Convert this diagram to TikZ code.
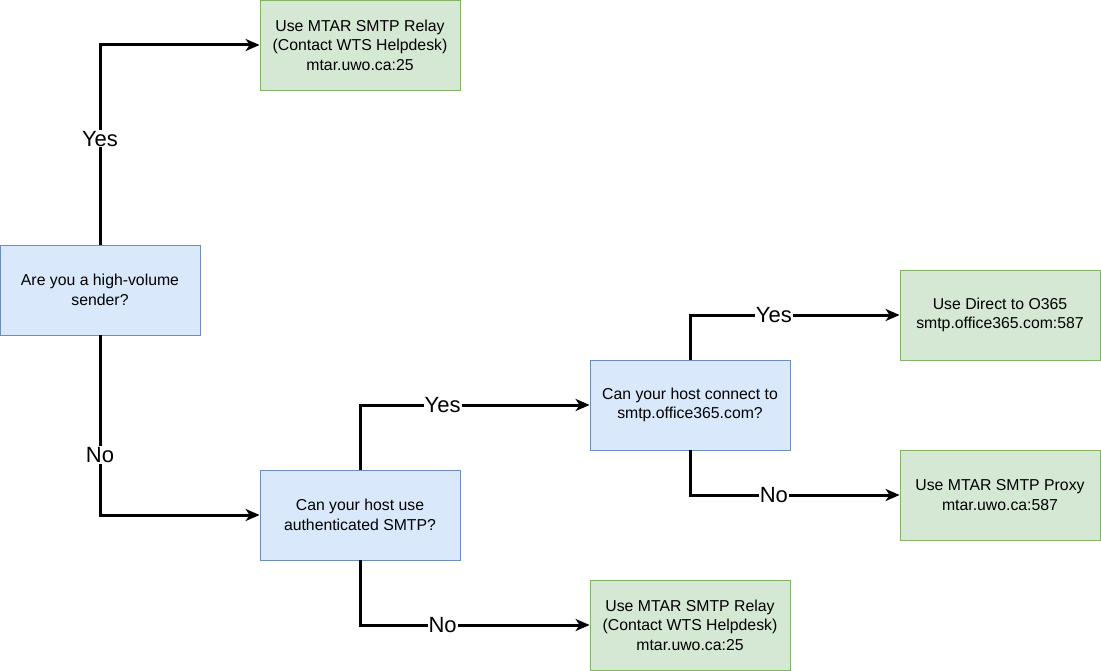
\documentclass[tikz,border=0pt]{standalone}
\usepackage{fontspec}
\setmainfont{Liberation Sans}
\usetikzlibrary{arrows.meta}
\definecolor{qfill}{HTML}{DAE8FC}
\definecolor{qdraw}{HTML}{6C8EBF}
\definecolor{afill}{HTML}{D5E8D4}
\definecolor{adraw}{HTML}{82B366}
\tikzset{
  box/.style={rectangle, minimum width=200pt, minimum height=90pt, inner sep=0pt, line width=0.8pt, align=center, font=\fontsize{15.8}{19.5}\selectfont},
  question/.style={box, fill=qfill, draw=qdraw},
  answer/.style={box, fill=afill, draw=adraw},
  flow/.style={line width=3pt, -{Stealth[length=14pt,width=12pt,inset=4pt]}},
  lbl/.style={fill=white, inner sep=1pt, font=\fontsize{22}{25}\selectfont}
}
\begin{document}
\begin{tikzpicture}[x=1pt,y=-1pt]
\useasboundingbox (0,0) rectangle (1101,671);
\node[question] (q1) at (100,290) {Are you a high-volume\\sender?};
\node[answer] (r1) at (360,45) {Use MTAR SMTP Relay\\(Contact WTS Helpdesk)\\mtar.uwo.ca:25};
\node[question] (q2) at (360,515) {Can your host use\\authenticated SMTP?};
\node[question] (q3) at (690,405) {Can your host connect to\\smtp.office365.com?};
\node[answer] (r2) at (690,625) {Use MTAR SMTP Relay\\(Contact WTS Helpdesk)\\mtar.uwo.ca:25};
\node[answer] (o365) at (1000,315) {Use Direct to O365\\smtp.office365.com:587};
\node[answer] (proxy) at (1000,495) {Use MTAR SMTP Proxy\\mtar.uwo.ca:587};

\draw[flow] (q1.north) |- (r1.west) node[lbl, pos=0.265] {Yes};
\draw[flow] (q1.south) |- (q2.west) node[lbl, pos=0.333] {No};
\draw[flow] (q2.north) |- (q3.west) node[lbl, pos=0.68] {Yes};
\draw[flow] (q2.south) |- (r2.west) node[lbl, pos=0.68] {No};
\draw[flow] (q3.north) |- (o365.west) node[lbl, pos=0.70] {Yes};
\draw[flow] (q3.south) |- (proxy.west) node[lbl, pos=0.70] {No};
\end{tikzpicture}
\end{document}
